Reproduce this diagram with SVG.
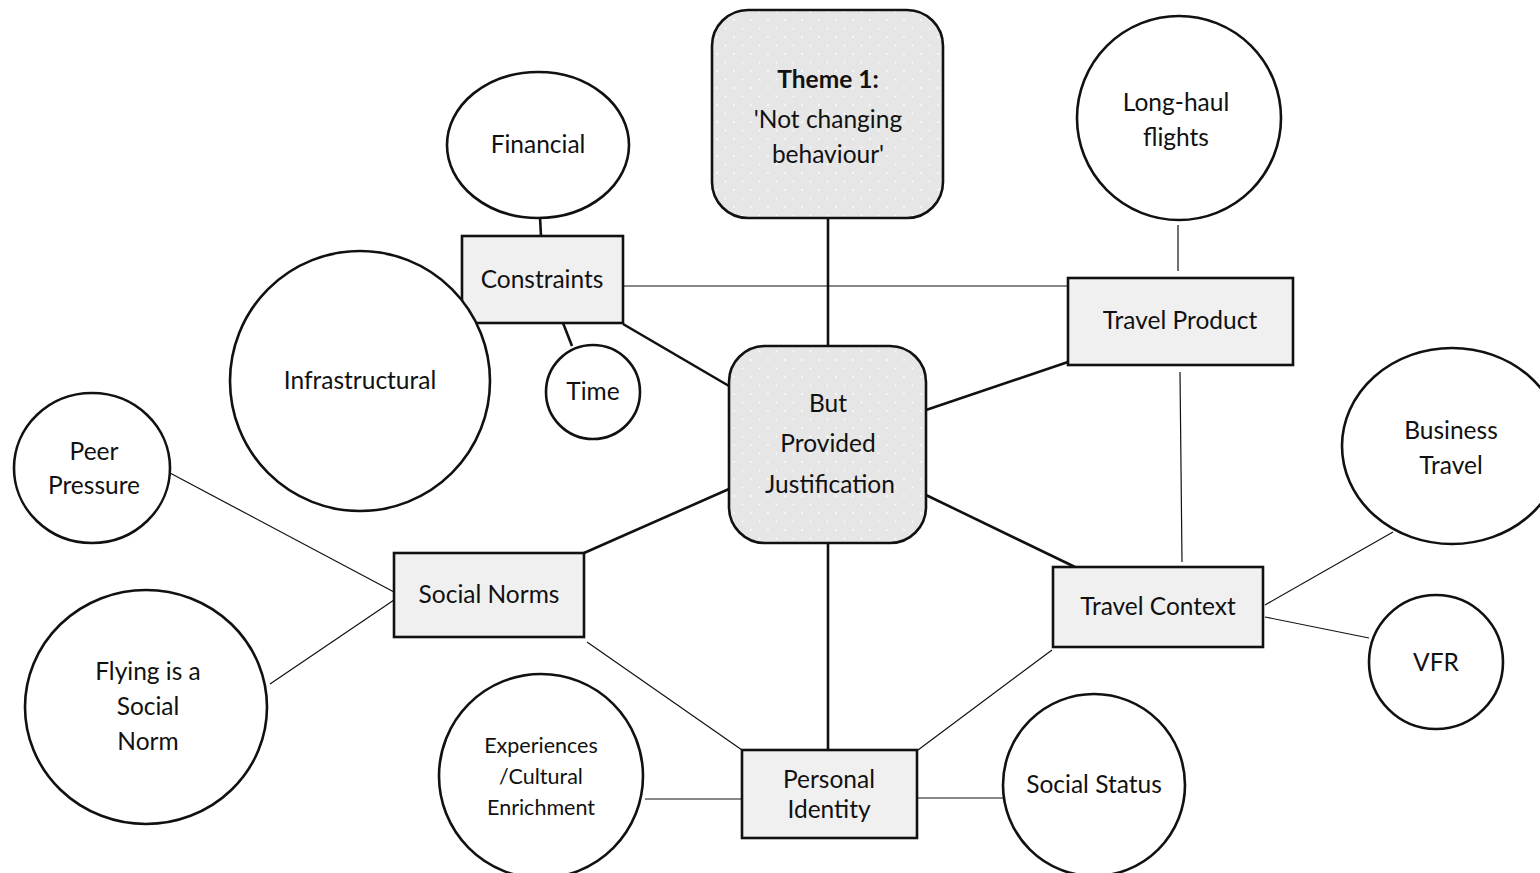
<svg xmlns="http://www.w3.org/2000/svg" width="1540" height="873" viewBox="0 0 1540 873">
  <defs>
    <pattern id="dots" width="17" height="17" patternUnits="userSpaceOnUse">
      <rect width="17" height="17" fill="#e6e6e6"/>
      <circle cx="3" cy="3" r="0.9" fill="#ffffff"/>
      <circle cx="11.5" cy="11.5" r="0.9" fill="#ffffff"/>
    </pattern>
  </defs>
  <style>
    text { font-family: Lato, "Liberation Sans", sans-serif; font-size: 24.5px; fill: #111; text-anchor: middle; }
    .theme { fill: url(#dots); stroke: #111; stroke-width: 2.6; }
    .box { fill: #f0f0f0; stroke: #111; stroke-width: 2.6; }
    .leaf { fill: #ffffff; stroke: #111; stroke-width: 2.6; }
    .thick { stroke: #111; stroke-width: 2.6; fill: none; }
    .thin { stroke: #111; stroke-width: 1.2; fill: none; }
    .small { font-size: 21.5px; }
  </style>
  <rect width="1540" height="873" fill="#ffffff"/>

  <g id="connectors">
    <line class="thick" x1="828" y1="218" x2="828" y2="346"/>
    <line class="thick" x1="623" y1="324" x2="729" y2="386"/>
    <line class="thick" x1="926" y1="410" x2="1068" y2="362"/>
    <line class="thick" x1="926" y1="495" x2="1075" y2="567"/>
    <line class="thick" x1="729" y1="489" x2="584" y2="553"/>
    <line class="thick" x1="828" y1="543" x2="828" y2="750"/>
    <line class="thin" x1="623" y1="286" x2="1068" y2="286"/>
    <line class="thick" x1="540" y1="217" x2="541" y2="236"/>
    <line class="thick" x1="489" y1="309" x2="473" y2="318"/>
    <line class="thick" x1="563" y1="323" x2="572" y2="346"/>
    <line class="thin" x1="1178" y1="225" x2="1178" y2="271"/>
    <line class="thin" x1="1180" y1="372" x2="1182" y2="562"/>
    <line class="thin" x1="1265" y1="605" x2="1393" y2="532"/>
    <line class="thin" x1="1265" y1="617" x2="1369" y2="638"/>
    <line class="thin" x1="1052" y1="650" x2="918" y2="750"/>
    <line class="thin" x1="645" y1="799" x2="742" y2="799"/>
    <line class="thin" x1="918" y1="798" x2="1003" y2="798"/>
    <line class="thin" x1="587" y1="642" x2="742" y2="750"/>
    <line class="thin" x1="170" y1="473" x2="394" y2="592"/>
    <line class="thin" x1="394" y1="600" x2="270" y2="684"/>
  </g>

  <g id="theme">
    <rect class="theme" x="712" y="10" width="231" height="208" rx="36"/>
    <text x="828" y="88" font-weight="bold">Theme 1:</text>
    <text x="828" y="128">'Not changing</text>
    <text x="828" y="163">behaviour'</text>
  </g>

  <g id="justification">
    <rect class="theme" x="729" y="346" width="197" height="197" rx="36"/>
    <text x="828" y="412">But</text>
    <text x="828" y="452">Provided</text>
    <text x="830" y="493">Justification</text>
  </g>

  <g id="constraints">
    <rect class="box" x="462" y="236" width="161" height="87"/>
    <text x="542" y="288">Constraints</text>
  </g>

  <g id="financial">
    <ellipse class="leaf" cx="538" cy="145" rx="91" ry="73"/>
    <text x="538" y="153">Financial</text>
  </g>

  <g id="infrastructural">
    <circle class="leaf" cx="360" cy="381" r="130"/>
    <text x="360" y="389">Infrastructural</text>
  </g>

  <g id="time">
    <circle class="leaf" cx="593" cy="392" r="47"/>
    <text x="593" y="400">Time</text>
  </g>

  <g id="travel-product">
    <rect class="box" x="1068" y="278" width="225" height="87"/>
    <text x="1180" y="329">Travel Product</text>
  </g>

  <g id="long-haul">
    <circle class="leaf" cx="1179" cy="118" r="102"/>
    <text x="1176" y="111">Long-haul</text>
    <text x="1176" y="146">flights</text>
  </g>

  <g id="travel-context">
    <rect class="box" x="1053" y="567" width="210" height="80"/>
    <text x="1158" y="615">Travel Context</text>
  </g>

  <g id="business-travel">
    <ellipse class="leaf" cx="1452" cy="446" rx="110" ry="98"/>
    <text x="1451" y="439">Business</text>
    <text x="1451" y="474">Travel</text>
  </g>

  <g id="vfr">
    <circle class="leaf" cx="1436" cy="662" r="67"/>
    <text x="1436" y="671">VFR</text>
  </g>

  <g id="personal-identity">
    <rect class="box" x="742" y="750" width="175" height="88"/>
    <text x="829" y="788">Personal</text>
    <text x="829" y="818">Identity</text>
  </g>

  <g id="experiences">
    <circle class="leaf" cx="541" cy="776" r="102"/>
    <text class="small" x="541" y="753">Experiences</text>
    <text class="small" x="541" y="784">/Cultural</text>
    <text class="small" x="541" y="815">Enrichment</text>
  </g>

  <g id="social-status">
    <circle class="leaf" cx="1094" cy="785" r="91"/>
    <text x="1094" y="793">Social Status</text>
  </g>

  <g id="social-norms">
    <rect class="box" x="394" y="553" width="190" height="84"/>
    <text x="489" y="603">Social Norms</text>
  </g>

  <g id="peer-pressure">
    <ellipse class="leaf" cx="92" cy="468" rx="78" ry="75"/>
    <text x="94" y="460">Peer</text>
    <text x="94" y="494">Pressure</text>
  </g>

  <g id="flying-norm">
    <ellipse class="leaf" cx="146" cy="707" rx="121" ry="117"/>
    <text x="148" y="680">Flying is a</text>
    <text x="148" y="715">Social</text>
    <text x="148" y="750">Norm</text>
  </g>
</svg>
